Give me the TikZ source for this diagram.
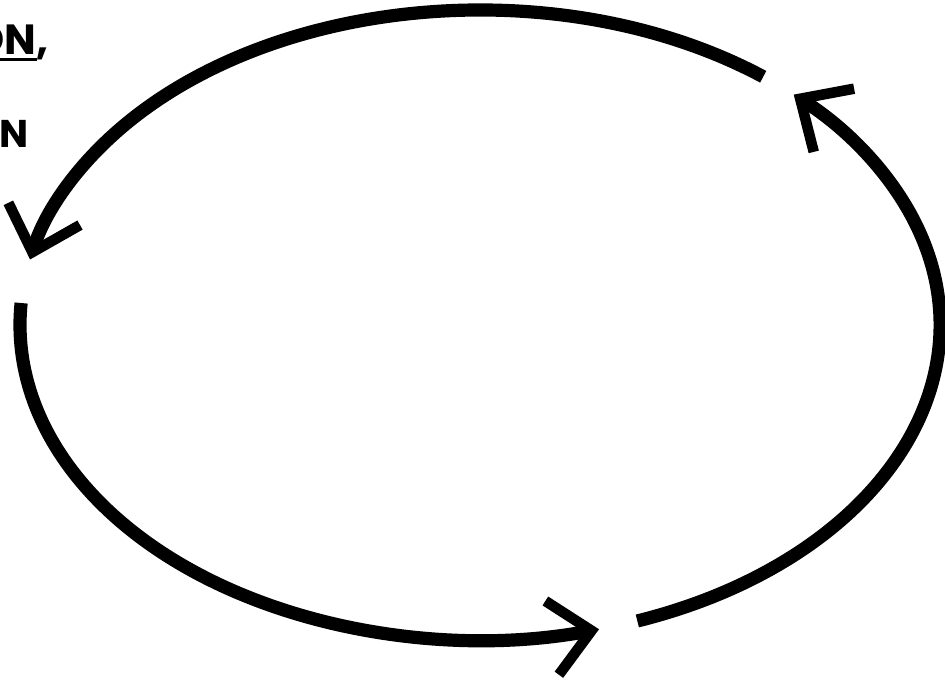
\documentclass[tikz,border=0pt]{standalone}
\usepackage{fontspec}
\setmainfont{Poppins}
\usetikzlibrary{arrows.meta, positioning}

\begin{document}
\begin{tikzpicture}[
			loop/.style={line width=7.5pt, black},
			tip/.style={-{Straight Barb[length=0.8cm, width=1.5cm, line width=6pt]}},
			word/.style={inner sep=0pt, font=\bfseries\fontsize{24}{28}\selectfont},
			small/.style={inner sep=0pt, font=\bfseries\fontsize{22}{26}\selectfont}]
			\useasboundingbox (0,0) rectangle (18.9,13.6);
			
			% ellipse centre and arc ends
			\coordinate (c) at (9.6,7.1);
			\coordinate (topstart) at ([shift={(c)}] 52:9.2 and 6.3);
			\coordinate (leftstart) at ([shift={(c)}] 176:9.2 and 6.3);
			\coordinate (rightstart) at ([shift={(c)}] 290:9.2 and 6.3);
			
			% text at the upper left
			\node[word, anchor=base east] (on) at (0.98,12.5) {\vtop{\hbox{ON}\kern1.5pt\hrule height 1.8pt},};
			\node[small, anchor=base east] (n) at (0.58,10.64) {N};
			
			% the three arcs
			\draw[loop, tip] (topstart) arc[start angle=52, end angle=168, x radius=9.2, y radius=6.3];
			\draw[loop, tip] (leftstart) arc[start angle=176, end angle=285, x radius=9.2, y radius=6.3];
			\draw[loop, tip] (rightstart) arc[start angle=290, end angle=407, x radius=9.2, y radius=6.3];
			
		\end{tikzpicture}
\end{document}
